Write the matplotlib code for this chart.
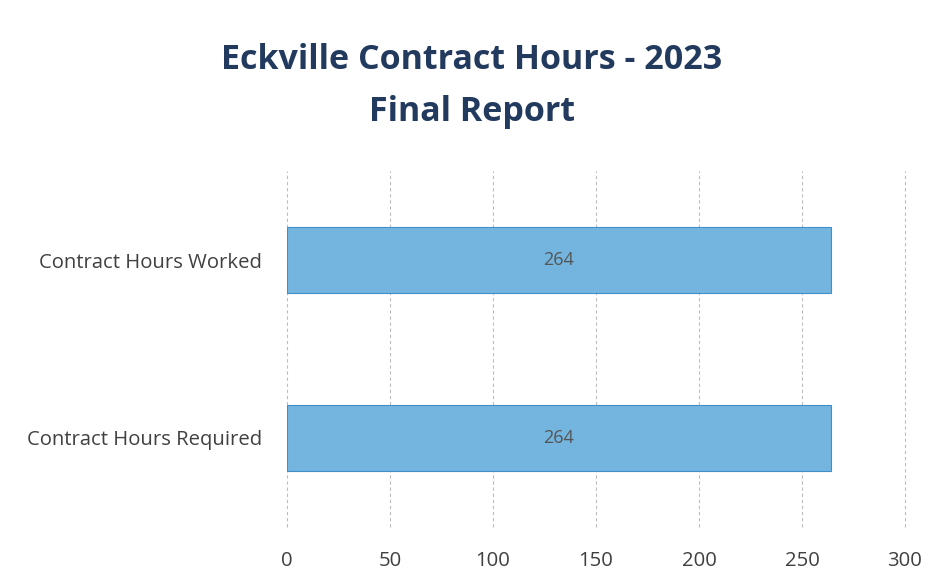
import matplotlib.pyplot as plt

categories = ['Contract Hours Required', 'Contract Hours Worked']
hours = [264, 264]
x_ticks = [0, 50, 100, 150, 200, 250, 300]

BAR_BLUE = '#74b5e0'
EDGE_BLUE = '#3f8fc8'
TITLE_NAVY = '#223a5e'
TEXT_GREY = '#404040'

fig = plt.figure(figsize=(9.36, 5.88), dpi=100)
# axes placed to match the scanned page: x from 287px to 905px, y from 171px to 527px
ax = fig.add_axes([287 / 936, 1 - 527 / 588, 618 / 936, 356 / 588])

pos = list(range(len(categories)))
bars = ax.barh(pos, hours, height=0.37, color=BAR_BLUE, edgecolor=EDGE_BLUE,
               linewidth=0.8, zorder=2)
for b, v in zip(bars, hours):
    ax.text(v / 2, b.get_y() + b.get_height() / 2, str(v), ha='center',
            va='center', fontsize=13, color='#555555', family='Open Sans', zorder=3)

ax.set_xlim(0, 300)
ax.set_ylim(-0.5, 1.5)
ax.set_xticks(x_ticks)
ax.set_yticks(pos)
ax.set_yticklabels(categories)
ax.tick_params(axis='both', length=0, labelsize=14.6, colors=TEXT_GREY)
ax.tick_params(axis='x', pad=17)
ax.tick_params(axis='y', pad=18)
for lab in ax.get_xticklabels() + ax.get_yticklabels():
    lab.set_family('Open Sans')

for t in x_ticks:
    ax.axvline(t, color='#bdbdbd', linestyle=(0, (3, 2.5)), linewidth=0.8,
               zorder=0, clip_on=False)
for s in ax.spines.values():
    s.set_visible(False)

fig.text(472 / 936, 1 - 60 / 588, 'Eckville Contract Hours - 2023', ha='center',
         va='center', fontsize=24.5, fontweight='bold', color=TITLE_NAVY, family='Open Sans')
fig.text(472 / 936, 1 - 112 / 588, 'Final Report', ha='center', va='center',
         fontsize=24.5, fontweight='bold', color=TITLE_NAVY, family='Open Sans')

fig.savefig('out.png', dpi=100)
